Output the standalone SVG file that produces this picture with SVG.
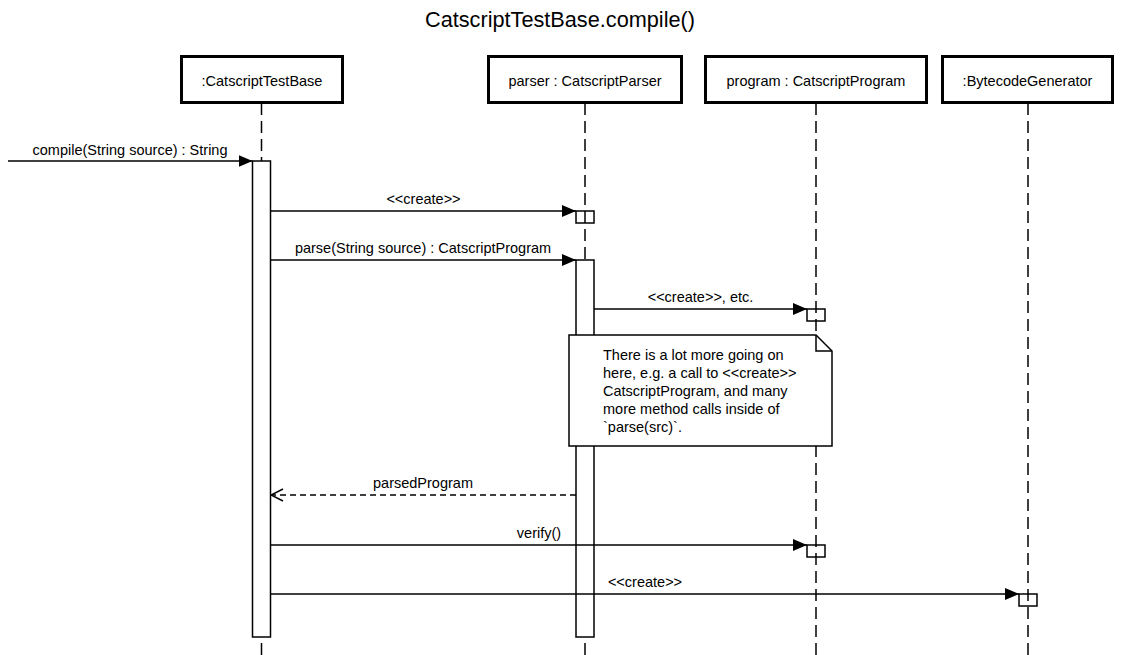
<svg xmlns="http://www.w3.org/2000/svg" width="1121" height="655" viewBox="0 0 1121 655">
<style>
text{font-family:"Liberation Sans",Arial,Helvetica,sans-serif;font-size:14.5px;fill:#000}
.title{font-size:21.7px}
.mid{text-anchor:middle}
.head{fill:#fff;stroke:#000;stroke-width:3}
.life{stroke:#000;stroke-width:1.5;stroke-dasharray:12 6;fill:none}
.act{fill:#fff;stroke:#000;stroke-width:1.5}
.cre{fill:none;stroke:#000;stroke-width:1.5}
.msg{stroke:#000;stroke-width:1.5;fill:none}
.ret{stroke:#000;stroke-width:1.5;fill:none;stroke-dasharray:6 4}
.note{fill:#fff;stroke:#000;stroke-width:1.5}
</style>
<defs>
<marker id="filled" markerUnits="userSpaceOnUse" viewBox="0 0 14 12" refX="14" refY="6" markerWidth="14" markerHeight="12" orient="auto">
<path d="M0,0 L14,6 L0,12 Z" fill="#000"/>
</marker>
<marker id="open" markerUnits="userSpaceOnUse" viewBox="0 0 14 14" refX="13" refY="7" markerWidth="14" markerHeight="14" orient="auto">
<path d="M1,1 L13,7 L1,13" fill="none" stroke="#000" stroke-width="1.5"/>
</marker>
</defs>
<text class="title mid" x="560" y="27">CatscriptTestBase.compile()</text>
<g id="testbase">
<rect class="head" x="181.5" y="56.5" width="161" height="46"/>
<text class="mid" x="262" y="86">:CatscriptTestBase</text>
<line class="life" x1="261.5" y1="103" x2="261.5" y2="655"/>
<rect class="act" x="252.5" y="161" width="18" height="476"/>
</g>
<g id="parser">
<rect class="head" x="488.5" y="56.5" width="193" height="46"/>
<text class="mid" x="585" y="86">parser : CatscriptParser</text>
<line class="life" x1="585" y1="103" x2="585" y2="655"/>
<rect class="cre" x="576" y="211" width="18" height="12"/>
<rect class="act" x="576" y="260" width="18" height="377"/>
</g>
<g id="program">
<rect class="head" x="705.5" y="56.5" width="221" height="46"/>
<text class="mid" x="816" y="86">program : CatscriptProgram</text>
<line class="life" x1="816" y1="103" x2="816" y2="655"/>
<rect class="cre" x="807" y="309" width="18" height="12"/>
<rect class="cre" x="807" y="545" width="18" height="12"/>
</g>
<g id="bytecode">
<rect class="head" x="942.5" y="56.5" width="170" height="46"/>
<text class="mid" x="1027.5" y="86">:BytecodeGenerator</text>
<line class="life" x1="1028" y1="103" x2="1028" y2="655"/>
<rect class="cre" x="1019" y="594" width="18" height="12"/>
</g>
<g id="note">
<path class="note" d="M569,335 L816,335 L832,351 L832,446 L569,446 Z"/>
<path class="msg" d="M816,335 L816,351 L832,351"/>
<text x="603" y="360">There is a lot more going on</text>
<text x="603" y="378">here, e.g. a call to &lt;&lt;create&gt;&gt;</text>
<text x="603" y="396">CatscriptProgram, and many</text>
<text x="603" y="414">more method calls inside of</text>
<text x="603" y="432">`parse(src)`.</text>
</g>
<g id="connectors">
<line class="msg" x1="8" y1="161" x2="252.5" y2="161" marker-end="url(#filled)"/>
<text class="mid" x="130" y="155">compile(String source) : String</text>
<line class="msg" x1="270.5" y1="211" x2="576" y2="211" marker-end="url(#filled)"/>
<text class="mid" x="423.5" y="204">&lt;&lt;create&gt;&gt;</text>
<line class="msg" x1="270.5" y1="260" x2="576" y2="260" marker-end="url(#filled)"/>
<text class="mid" x="423" y="253">parse(String source) : CatscriptProgram</text>
<line class="msg" x1="594" y1="309" x2="807" y2="309" marker-end="url(#filled)"/>
<text class="mid" x="700.5" y="302">&lt;&lt;create&gt;&gt;, etc.</text>
<line class="ret" x1="576" y1="495" x2="271" y2="495" marker-end="url(#open)"/>
<text class="mid" x="423" y="488">parsedProgram</text>
<line class="msg" x1="270.5" y1="545" x2="807" y2="545" marker-end="url(#filled)"/>
<text class="mid" x="539" y="538">verify()</text>
<line class="msg" x1="270.5" y1="594" x2="1019" y2="594" marker-end="url(#filled)"/>
<text class="mid" x="645" y="587">&lt;&lt;create&gt;&gt;</text>
</g>
</svg>
